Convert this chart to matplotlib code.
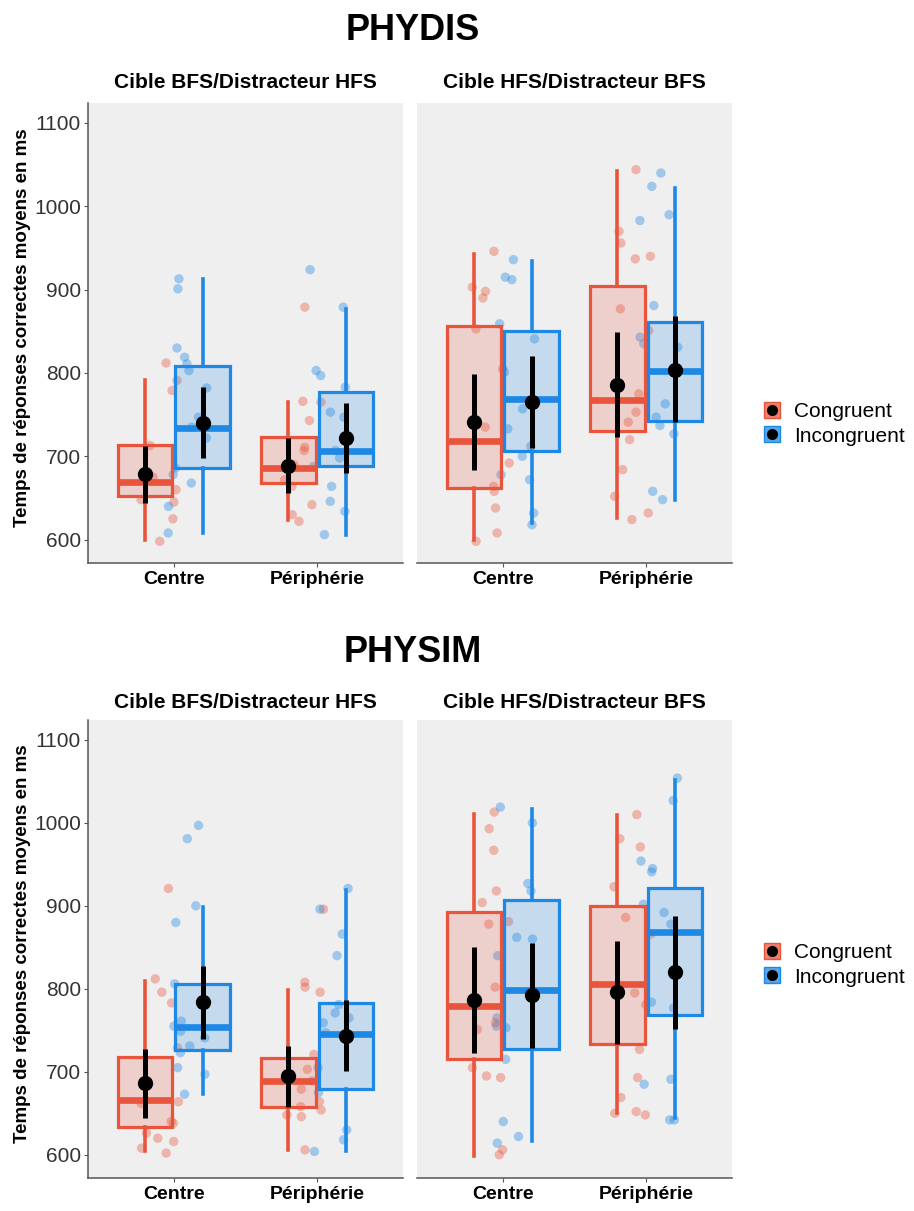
import numpy as np
import matplotlib
matplotlib.use("Agg")
import matplotlib.pyplot as plt
from matplotlib.lines import Line2D
from matplotlib.legend_handler import HandlerTuple
from matplotlib.colors import to_rgba

plt.rcParams['font.family'] = ['Liberation Sans', 'DejaVu Sans']

# ---------------- data ----------------
sections = ["PHYDIS", "PHYSIM"]
facets = ["Cible BFS/Distracteur HFS", "Cible HFS/Distracteur BFS"]
conditions = ["Centre", "Périphérie"]
groups = ["Congruent", "Incongruent"]
yticks = [600, 700, 800, 900, 1000, 1100]

# indices: [section][facet][condition][group]
q1 = [[[[652, 686], [668, 688]], [[662, 706], [730, 743]]],
      [[[634, 726], [657, 679]], [[715, 728], [733, 769]]]]
median = [[[[669, 734], [686, 706]], [[718, 769], [768, 803]]],
          [[[666, 754], [689, 745]], [[779, 798], [806, 868]]]]
q3 = [[[[714, 809], [723, 777]], [[856, 850], [905, 861]]],
      [[[718, 806], [717, 783]], [[892, 907], [900, 921]]]]
whisk_lo = [[[[600, 608], [624, 606]], [[600, 620], [626, 648]]],
            [[[604, 673], [606, 604]], [[598, 616], [650, 644]]]]
whisk_hi = [[[[792, 913], [765, 877]], [[943, 935], [1043, 1022]]],
            [[[810, 899], [798, 919]], [[1011, 1017], [1009, 1052]]]]
mean = [[[[679, 740], [689, 722]], [[741, 765], [786, 804]]],
        [[[686, 784], [695, 743]], [[787, 792], [796, 820]]]]
ci_lo = [[[[644, 698], [656, 680]], [[684, 710], [723, 741]]],
         [[[644, 739], [657, 701]], [[723, 729], [734, 752]]]]
ci_hi = [[[[712, 783], [722, 764]], [[799, 821], [849, 869]]],
         [[[727, 827], [731, 786]], [[850, 855], [858, 888]]]]

# individual participant means
points = [
    [  # PHYDIS
        [  # Cible BFS/Distracteur HFS
            [[812, 791, 779, 713, 675, 660, 648, 645, 625, 598],
             [913, 901, 830, 819, 811, 803, 782, 747, 735, 722, 686, 678, 668, 640, 608]],
            [[879, 766, 765, 743, 711, 707, 690, 672, 664, 642, 630, 622],
             [924, 879, 803, 797, 783, 753, 747, 707, 698, 688, 664, 646, 634, 606]],
        ],
        [  # Cible HFS/Distracteur BFS
            [[946, 903, 898, 890, 853, 805, 735, 692, 664, 658, 638, 608, 598],
             [936, 915, 912, 859, 841, 801, 757, 733, 712, 700, 678, 672, 632, 618]],
            [[1044, 970, 956, 940, 937, 877, 851, 775, 753, 741, 720, 684, 652, 632, 624],
             [1040, 1024, 990, 983, 881, 843, 835, 831, 763, 747, 737, 727, 658, 648]],
        ],
    ],
    [  # PHYSIM
        [
            [[921, 812, 796, 783, 729, 687, 664, 662, 640, 638, 626, 620, 616, 608, 602],
             [997, 981, 900, 880, 806, 761, 755, 749, 741, 731, 723, 705, 697, 673]],
            [[896, 808, 802, 796, 721, 703, 679, 664, 658, 654, 648, 646, 606],
             [921, 896, 866, 840, 781, 771, 765, 759, 747, 705, 689, 675, 630, 618, 604]],
        ],
        [
            [[1013, 993, 967, 918, 904, 881, 878, 802, 759, 751, 705, 695, 693, 606, 600],
             [1019, 1000, 927, 918, 862, 860, 840, 765, 755, 753, 715, 640, 622, 614]],
            [[1010, 981, 971, 923, 886, 866, 795, 781, 727, 693, 669, 652, 650, 648],
             [1054, 1027, 954, 945, 941, 902, 892, 878, 784, 777, 691, 685, 642, 642]],
        ],
    ],
]

colors = ["#E9553C", "#1E88E5"]
panel_bg = "#EFEFEF"

# ---------------- layout ----------------
W, H = 914, 1211
fig = plt.figure(figsize=(W / 100, H / 100), dpi=100)

panel_left = [88, 417]
panel_w = 315
panel_top = [103, 720]
panel_bottom = [563, 1178]
title_y = [30, 652]
strip_y = [83, 703]
legend_y = [424, 965]

rng = np.random.default_rng(7)

for s in range(2):
    for f in range(2):
        x0 = panel_left[f] / W
        y0 = 1 - panel_bottom[s] / H
        h = (panel_bottom[s] - panel_top[s]) / H
        ax = fig.add_axes([x0, y0, panel_w / W, h])
        ax.set_facecolor(panel_bg)
        ax.set_xlim(0.4, 2.6)
        ax.set_ylim(572, 1124)
        for c in range(2):
            for g in range(2):
                col = colors[g]
                pos = c + 1 + (-0.2 if g == 0 else 0.2)
                # jittered points
                ys = np.array(points[s][f][c][g], dtype=float)
                xs = c + 1 + (-0.09 if g == 0 else 0.09) + rng.uniform(-0.14, 0.14, len(ys))
                ax.scatter(xs, ys, s=46, color=col, alpha=0.38, edgecolors='none', zorder=1.5)
                st = dict(med=median[s][f][c][g], q1=q1[s][f][c][g], q3=q3[s][f][c][g],
                          whislo=whisk_lo[s][f][c][g], whishi=whisk_hi[s][f][c][g], fliers=[])
                ax.bxp([st], positions=[pos], widths=0.38, patch_artist=True,
                       showfliers=False, showcaps=False,
                       boxprops=dict(facecolor=to_rgba(col, 0.2), edgecolor=col, linewidth=2.3),
                       medianprops=dict(color=col, linewidth=4.8, solid_capstyle='butt'),
                       whiskerprops=dict(color=col, linewidth=2.6),
                       manage_ticks=False, zorder=2)
                ax.vlines(pos, ci_lo[s][f][c][g], ci_hi[s][f][c][g], color='black', lw=3.6, zorder=4)
                ax.plot([pos], [mean[s][f][c][g]], 'o', color='black', ms=10, zorder=5)
        ax.set_xticks([1, 2])
        ax.set_xticklabels(conditions, fontsize=14, fontweight='bold', color='black')
        for sp in ['top', 'right']:
            ax.spines[sp].set_visible(False)
        ax.spines['bottom'].set_color('#555555')
        ax.spines['bottom'].set_linewidth(1.1)
        ax.tick_params(axis='x', length=3, width=0.8, color='#555555', pad=3)
        if f == 0:
            ax.set_yticks(yticks)
            ax.set_yticklabels([str(v) for v in yticks], fontsize=15, color='#333333')
            ax.spines['left'].set_color('#555555')
            ax.spines['left'].set_linewidth(1.1)
            ax.tick_params(axis='y', length=3, width=0.8, color='#555555', pad=2)
        else:
            ax.spines['left'].set_visible(False)
            ax.set_yticks([])
        fig.text((panel_left[f] + panel_w / 2) / W, 1 - strip_y[s] / H, facets[f],
                 ha='center', va='center', fontsize=15, fontweight='bold')
    fig.text(413 / W, 1 - title_y[s] / H, sections[s], ha='center', va='center',
             fontsize=26, fontweight='bold')
    fig.text(23 / W, 1 - ((panel_top[s] + panel_bottom[s]) / 2 - 5) / H,
             "Temps de réponses correctes moyens en ms", rotation=90,
             ha='center', va='center', fontsize=13.5, fontweight='bold')
    handles = [(Line2D([], [], marker='s', markerfacecolor=to_rgba(colors[g], 0.75),
                       markeredgecolor=colors[g], markersize=12, linestyle='none'),
                Line2D([], [], marker='o', color='black', markersize=7, linestyle='none'))
               for g in range(2)]
    fig.legend(handles=handles, labels=groups,
               handler_map={tuple: HandlerTuple(ndivide=1, pad=0)},
               loc='center left', bbox_to_anchor=(753 / W, 1 - legend_y[s] / H),
               frameon=False, fontsize=15, handlelength=1.0, handletextpad=0.55,
               labelspacing=0.25, borderaxespad=0)

fig.savefig("out.png", dpi=100)
